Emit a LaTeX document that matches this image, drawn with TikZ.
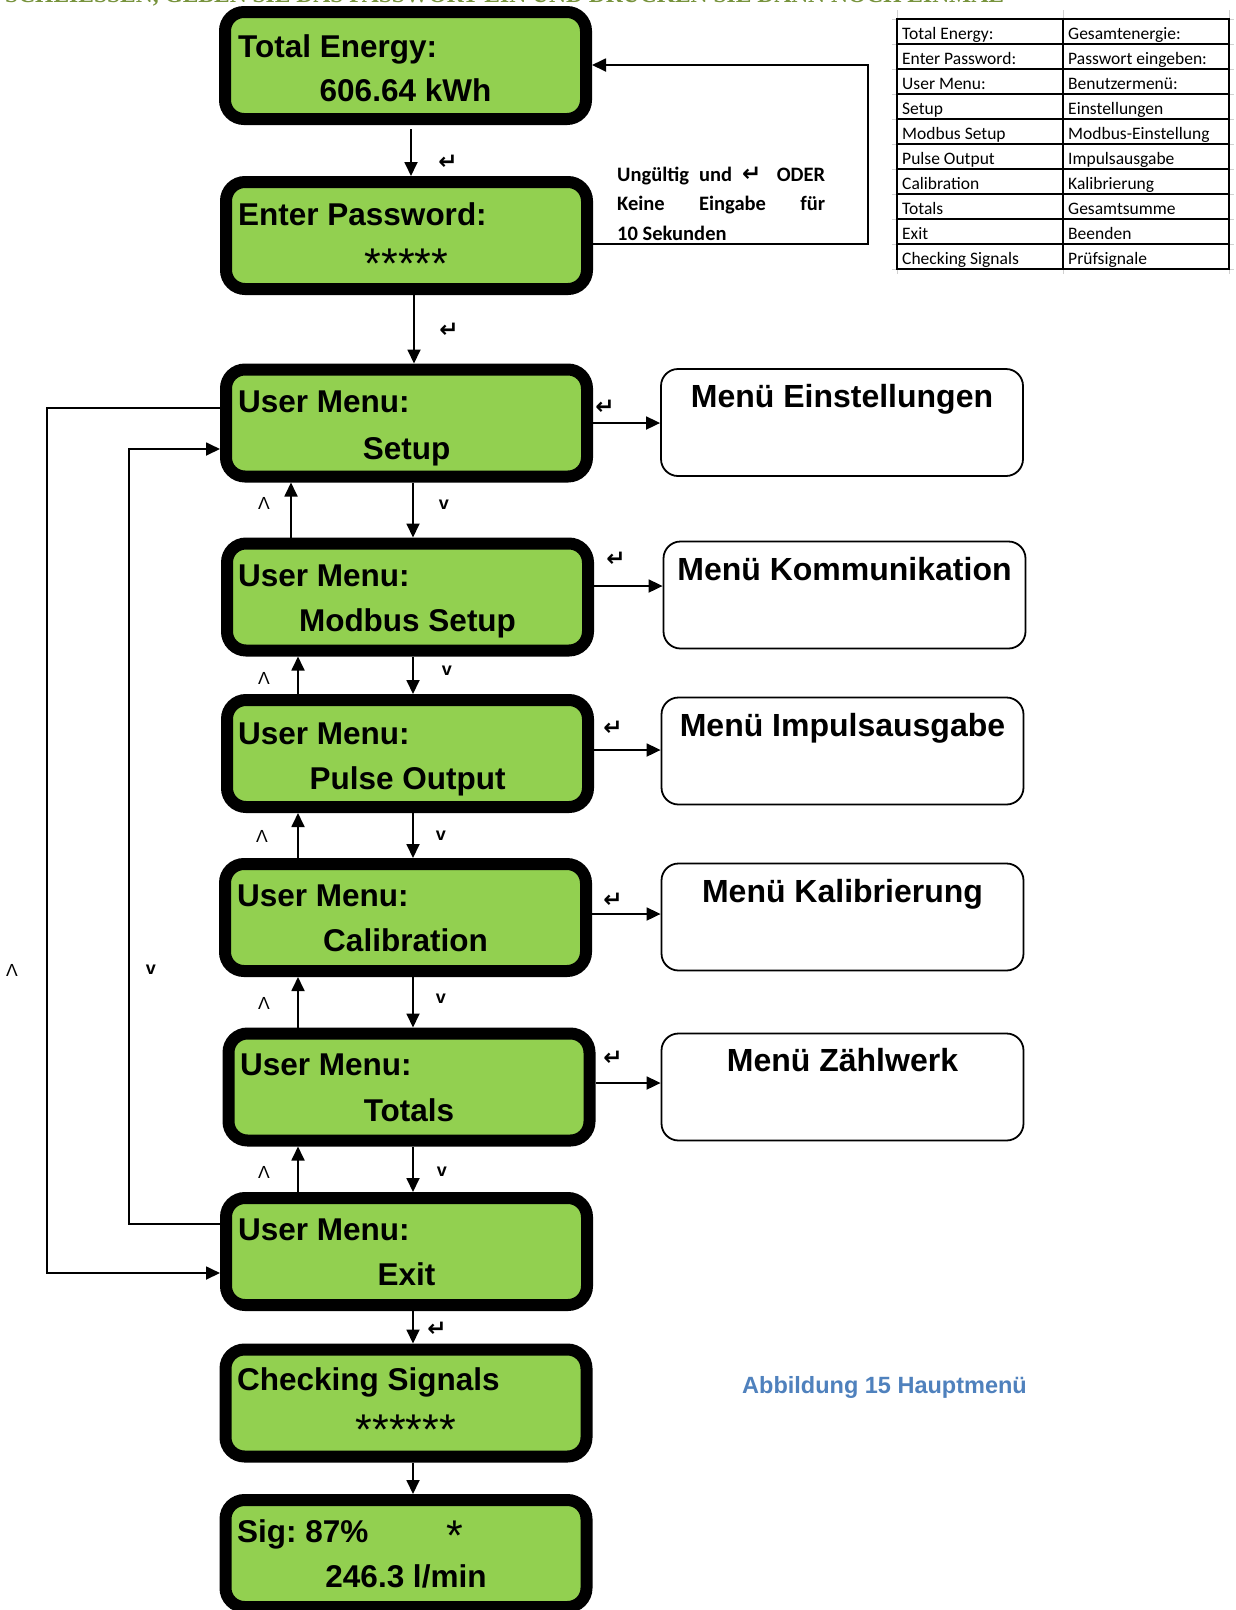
\documentclass[tikz,border=0pt]{standalone}
\usepackage{fontspec}
\setmainfont{Liberation Sans}
\newfontfamily\tabfont{Carlito}
\newfontfamily\symfont{DejaVu Sans}
\newfontfamily\headfont{Liberation Serif}
\usetikzlibrary{arrows.meta,calc}
\definecolor{lcdgreen}{HTML}{92D050}
\definecolor{capblue}{HTML}{4F81BD}
\definecolor{headgreen}{HTML}{77933C}
\definecolor{gridgray}{HTML}{D0D0D0}
\newcommand\retsym{{\symfont\bfseries\fontsize{23}{23}\selectfont ↵}}
\frenchspacing

\begin{document}
\begin{tikzpicture}[x=1pt,y=-1pt,
  lcd/.style={draw=black, fill=lcdgreen, line width=12pt, rounded corners=19pt,
    minimum width=361pt, minimum height=107pt, inner sep=0pt, outer sep=6pt},
  menubox/.style={draw=black, line width=1.8pt, rounded corners=17pt,
    minimum width=362pt, minimum height=107pt, inner sep=0pt, outer sep=0.9pt},
  lcdfirst/.style={font=\fontsize{31.5}{36}\selectfont\bfseries, inner sep=0pt, anchor=base west},
  lcdsecond/.style={font=\fontsize{31.5}{36}\selectfont\bfseries, inner sep=0pt, anchor=base},
  stars/.style={font=\fontsize{43}{44}\selectfont, inner sep=0pt, anchor=base},
  menutitle/.style={font=\fontsize{32}{36}\selectfont\bfseries, inner sep=0pt, anchor=base},
  arr/.style={line width=1.8pt, -{Triangle[length=14pt,width=13pt]}},
  retlabel/.style={inner sep=0pt},
  uplabel/.style={font=\fontsize{17.5}{18}\selectfont, inner sep=0pt},
  dnlabel/.style={font=\fontsize{18}{18}\selectfont\bfseries, inner sep=0pt},
  tabcell/.style={font=\tabfont\fontsize{17.5}{18}\selectfont, inner sep=0pt, anchor=base west},
  tabline/.style={line width=1.2pt, draw=black},
  gridline/.style={line width=0.8pt, draw=gridgray}
]
\useasboundingbox (0,0) rectangle (1235,1610);
\clip (0,0) rectangle (1235,1610);
\fill[white] (0,0) rectangle (1235,1610);

% heading line running off the top edge
\node[anchor=base west, inner sep=0pt, text=headgreen,
  font=\headfont\bfseries\fontsize{23.5}{24}\selectfont] (head) at (5,2.5)
  {SCHLIESSEN, GEBEN SIE DAS PASSWORT EIN UND DRÜCKEN SIE DANN NOCH EINMAL};

% ---------- display boxes ----------
\node[lcd] (te) at (405.5,65.5) {};
\node[lcd] (ep) at (406.5,235.5) {};
\node[lcd] (s)  at (406.5,423) {};
\node[lcd] (mb) at (407.5,597) {};
\node[lcd] (po) at (407.5,753.5) {};
\node[lcd] (ca) at (405.5,917.5) {};
\node[lcd] (to) at (409,1087) {};
\node[lcd] (ex) at (406.5,1251.5) {};
\node[lcd] (cs) at (406,1403) {};
\node[lcd] (sg) at (406,1553.5) {};

\node[lcdfirst] (te-a) at (238,57) {Total Energy:};
\node[lcdsecond] (te-b) at (te.center |- 0,101) {606.64 kWh};
\node[lcdfirst] (ep-a) at (238,225) {Enter Password:};
\node[stars] (ep-b) at (ep.center |- 0,278) {*****};
\node[lcdfirst] (s-a) at (238,412) {User Menu:};
\node[lcdsecond] (s-b) at (s.center |- 0,459) {Setup};
\node[lcdfirst] (mb-a) at (238,586) {User Menu:};
\node[lcdsecond] (mb-b) at (mb.center |- 0,631) {Modbus Setup};
\node[lcdfirst] (po-a) at (238,744) {User Menu:};
\node[lcdsecond] (po-b) at (po.center |- 0,789) {Pulse Output};
\node[lcdfirst] (ca-a) at (237,906) {User Menu:};
\node[lcdsecond] (ca-b) at (ca.center |- 0,951) {Calibration};
\node[lcdfirst] (to-a) at (240,1075) {User Menu:};
\node[lcdsecond] (to-b) at (to.center |- 0,1121) {Totals};
\node[lcdfirst] (ex-a) at (238,1240) {User Menu:};
\node[lcdsecond] (ex-b) at (ex.center |- 0,1285) {Exit};
\node[lcdfirst] (cs-a) at (237,1390) {Checking Signals};
\node[stars] (cs-b) at (cs.center |- 0,1444) {******};
\node[lcdfirst] (sg-a) at (237,1542) {Sig: 87\%};
\node[stars] (sg-c) at (455,1550) {*};
\node[lcdsecond] (sg-b) at (sg.center |- 0,1587) {246.3 l/min};

% ---------- sub-menu boxes ----------
\node[menubox] (m1) at (842,422.5) {};
\node[menubox] (m2) at (844.5,595) {};
\node[menubox] (m3) at (842.5,751) {};
\node[menubox] (m4) at (842.5,917) {};
\node[menubox] (m5) at (842.5,1087) {};
\node[menutitle] (m1-t) at (m1.center |- 0,407) {Menü Einstellungen};
\node[menutitle] (m2-t) at (m2.center |- 0,580) {Menü Kommunikation};
\node[menutitle] (m3-t) at (m3.center |- 0,736) {Menü Impulsausgabe};
\node[menutitle] (m4-t) at (m4.center |- 0,902) {Menü Kalibrierung};
\node[menutitle] (m5-t) at (m5.center |- 0,1071) {Menü Zählwerk};

% ---------- downward flow ----------
\draw[arr, shorten <=4pt] (te.south -| 411,0) -- (ep.north -| 411,0);
\draw[arr] (ep.south -| 414,0) -- (s.north -| 414,0);
\draw[arr] (s.south -| 413,0) -- (mb.north -| 413,0);
\draw[arr] (mb.south -| 413,0) -- (po.north -| 413,0);
\draw[arr] (po.south -| 413,0) -- (ca.north -| 413,0);
\draw[arr] (ca.south -| 413,0) -- (to.north -| 413,0);
\draw[arr] (to.south -| 413,0) -- (ex.north -| 413,0);
\draw[arr] (ex.south -| 413,0) -- (cs.north -| 413,0);
\draw[arr] (cs.south -| 413,0) -- (sg.north -| 413,0);

% ---------- upward flow ----------
\draw[arr] (mb.north -| 291,0) -- (s.south -| 291,0);
\draw[arr] (po.north -| 298,0) -- (mb.south -| 298,0);
\draw[arr] (ca.north -| 298,0) -- (po.south -| 298,0);
\draw[arr] (to.north -| 298,0) -- (ca.south -| 298,0);
\draw[arr] (ex.north -| 298,0) -- (to.south -| 298,0);

% ---------- into the sub-menus ----------
\draw[arr] (s.east |- 0,423) -- (m1.west |- 0,423);
\draw[arr] (mb.east |- 0,586) -- (m2.west |- 0,586);
\draw[arr] (po.east |- 0,750) -- (m3.west |- 0,750);
\draw[arr] (ca.east |- 0,914) -- (m4.west |- 0,914);
\draw[arr] (to.east |- 0,1083) -- (m5.west |- 0,1083);

% ---------- wrap-around loops ----------
\draw[arr] (s.west |- 0,408) -| (47,1273) -- (ex.west |- 0,1273);
\draw[arr] (ex.west |- 0,1224) -| (129,449) -- (s.west |- 0,449);

% ---------- time-out return ----------
\draw[arr] (ep.east |- 0,244) -| (868,65) -- (te.east |- 0,65);
\node[anchor=base west, inner sep=0pt] (note) at (617,181)
  {\parbox[t]{208pt}{\tabfont\bfseries\fontsize{20.5}{29.5}\selectfont
    \hbox to 208pt{Ungültig\hfil\ und\hfil\ \retsym\hfil\hfil\ ODER}
    \hbox to 208pt{Keine\hfil Eingabe\hfil für}
    \hbox{10 Sekunden}}};

% ---------- key labels ----------
\node[retlabel] (k1) at (448,162) {\retsym};
\node[retlabel] (k2) at (449,330) {\retsym};
\node[retlabel] (k3) at (605,407) {\retsym};
\node[retlabel] (k4) at (616,559) {\retsym};
\node[retlabel] (k5) at (613,728) {\retsym};
\node[retlabel] (k6) at (613,900) {\retsym};
\node[retlabel] (k7) at (613,1058) {\retsym};
\node[retlabel] (k8) at (437,1329) {\retsym};

\node[uplabel] (u1) at (264,503) {Λ};
\node[dnlabel] (d1) at (444,505) {v};
\node[uplabel] (u2) at (264,678) {Λ};
\node[dnlabel] (d2) at (447,671) {v};
\node[uplabel] (u3) at (262,836) {Λ};
\node[dnlabel] (d3) at (441,836) {v};
\node[uplabel] (u4) at (264,1003) {Λ};
\node[dnlabel] (d4) at (441,999) {v};
\node[uplabel] (u5) at (264,1172) {Λ};
\node[dnlabel] (d5) at (442,1172) {v};
\node[uplabel] (u6) at (12,970) {Λ};
\node[dnlabel] (d6) at (151,970) {v};

% ---------- translation table ----------
\foreach \k in {0,...,10} {
  \draw[gridline] (892,19+25*\k) -- (897,19+25*\k);
  \draw[gridline] (1229,19+25*\k) -- (1234,19+25*\k);
}
\foreach \xx in {897,1063,1229} {
  \draw[gridline] (\xx,10) -- (\xx,19);
  \draw[gridline] (\xx,269) -- (\xx,274);
}
\draw[tabline] (897,19) rectangle (1229,269);
\draw[tabline] (1063,19) -- (1063,269);
\foreach \k in {1,...,9} \draw[tabline] (897,19+25*\k) -- (1229,19+25*\k);
\foreach \a/\b [count=\i] in {Total Energy:/Gesamtenergie:,
    Enter Password:/Passwort eingeben:, User Menu:/Benutzermenü:,
    Setup/Einstellungen, Modbus Setup/Modbus-Einstellung,
    Pulse Output/Impulsausgabe, Calibration/Kalibrierung,
    Totals/Gesamtsumme, Exit/Beenden, Checking Signals/Prüfsignale} {
  \node[tabcell] (tl\i) at (902,14+25*\i) {\a};
  \node[tabcell] (tr\i) at (1068,14+25*\i) {\b};
}

% ---------- caption ----------
\node[anchor=base west, inner sep=0pt, text=capblue,
  font=\fontsize{23.5}{24}\selectfont\bfseries] (cap) at (742,1393)
  {Abbildung 15 Hauptmenü};
\end{tikzpicture}
\end{document}
